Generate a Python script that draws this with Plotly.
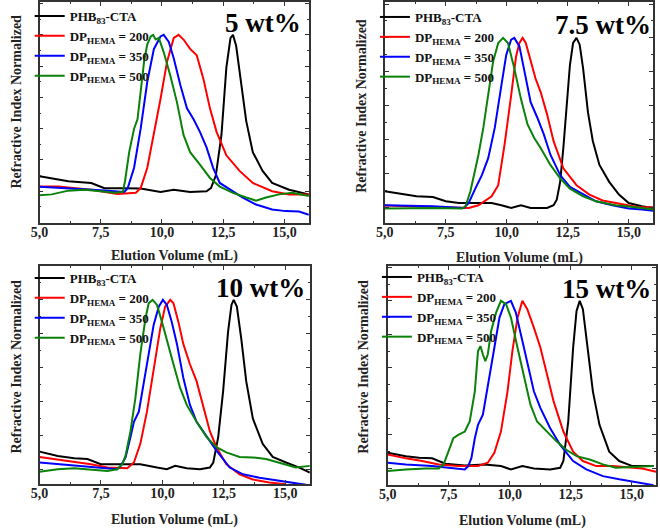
import plotly.graph_objects as go

# ---------------- data (elution volume mL, normalized RI) ----------------
# Panel 1: 5 wt%
p1_black_x = [5.0, 6.17, 7.11, 7.65, 8.46, 9.13, 9.94, 10.48, 11.15, 11.82, 12.0, 12.2, 12.43, 12.63, 12.8, 12.9, 13.03, 13.24, 13.44, 13.71, 14.11, 14.5, 15.19, 16.0]
p1_black_y = [0.096, 0.064, 0.053, 0.02, 0.02, 0.017, -0.004, 0.01, -0.004, 0.0, 0.02, 0.1, 0.36, 0.79, 0.98, 1.0, 0.93, 0.68, 0.45, 0.25, 0.13, 0.053, 0.01, -0.02]
p1_red_x = [5.0, 5.77, 7.1, 8.19, 8.93, 9.13, 9.4, 9.67, 9.94, 10.21, 10.48, 10.68, 10.88, 11.15, 11.42, 11.69, 11.96, 12.23, 12.63, 13.17, 13.71, 14.5, 15.19, 16.0]
p1_red_y = [0.03, 0.03, 0.01, -0.017, -0.01, 0.02, 0.15, 0.36, 0.59, 0.83, 0.98, 1.0, 0.97, 0.91, 0.87, 0.72, 0.53, 0.38, 0.23, 0.13, 0.053, 0.0, -0.02, -0.02]
p1_blue_x = [5.0, 6.44, 7.5, 8.46, 8.6, 8.86, 9.13, 9.4, 9.67, 9.94, 10.07, 10.28, 10.48, 10.75, 11.02, 11.29, 11.55, 11.82, 12.09, 12.36, 12.77, 13.3, 13.84, 14.5, 15.05, 15.6, 16.0]
p1_blue_y = [0.028, 0.017, 0.006, -0.004, 0.02, 0.15, 0.4, 0.7, 0.91, 0.99, 1.0, 0.955, 0.85, 0.68, 0.53, 0.46, 0.38, 0.28, 0.15, 0.053, 0.01, -0.04, -0.085, -0.117, -0.127, -0.13, -0.15]
p1_green_x = [5.0, 5.5, 6.17, 6.84, 7.5, 8.06, 8.4, 8.49, 8.66, 8.86, 9.0, 9.13, 9.27, 9.4, 9.54, 9.64, 9.74, 9.87, 10.07, 10.34, 10.61, 10.88, 11.15, 11.55, 11.96, 12.36, 12.9, 13.44, 13.84, 14.25, 14.78, 15.32, 16.0]
p1_green_y = [-0.025, -0.02, 0.004, 0.01, 0.0, -0.01, -0.004, 0.064, 0.25, 0.4, 0.46, 0.66, 0.83, 0.94, 0.99, 1.0, 0.97, 0.98, 0.89, 0.74, 0.57, 0.36, 0.25, 0.17, 0.085, 0.03, -0.01, -0.04, -0.06, -0.04, -0.02, -0.01, -0.03]

# Panel 2: 7.5 wt%
p2_black_x = [5.0, 5.63, 6.3, 6.97, 7.5, 8.04, 8.84, 9.38, 9.78, 10.18, 10.58, 10.98, 11.65, 11.92, 12.05, 12.19, 12.32, 12.46, 12.59, 12.72, 12.86, 12.99, 13.13, 13.33, 13.53, 13.8, 14.2, 14.6, 15.0, 15.54, 16.0]
p2_black_y = [0.094, 0.078, 0.065, 0.06, 0.035, 0.025, 0.025, 0.025, 0.012, -0.004, 0.012, -0.004, -0.004, 0.012, 0.045, 0.15, 0.35, 0.62, 0.84, 0.97, 1.0, 0.96, 0.82, 0.56, 0.39, 0.25, 0.15, 0.075, 0.025, 0.006, -0.004]
p2_red_x = [5.0, 6.97, 8.44, 8.84, 9.38, 9.65, 9.91, 10.18, 10.38, 10.52, 10.65, 10.78, 10.98, 11.18, 11.39, 11.65, 11.92, 12.32, 12.86, 13.39, 13.93, 14.73, 15.4, 16.0]
p2_red_y = [0.01, 0.0, -0.004, 0.012, 0.065, 0.13, 0.37, 0.66, 0.89, 0.97, 1.0, 0.97, 0.86, 0.76, 0.68, 0.55, 0.39, 0.23, 0.13, 0.075, 0.04, 0.016, 0.0, 0.0]
p2_blue_x = [5.0, 6.97, 8.24, 8.44, 8.71, 8.98, 9.24, 9.51, 9.78, 9.98, 10.18, 10.31, 10.52, 10.72, 10.98, 11.25, 11.52, 11.79, 12.19, 12.59, 13.13, 13.66, 14.33, 15.0, 15.54, 16.0]
p2_blue_y = [0.012, 0.006, -0.004, 0.025, 0.11, 0.19, 0.29, 0.47, 0.72, 0.9, 0.99, 1.0, 0.95, 0.8, 0.62, 0.53, 0.43, 0.31, 0.19, 0.12, 0.075, 0.035, 0.012, -0.008, -0.014, -0.02]
p2_green_x = [5.0, 6.97, 8.17, 8.31, 8.51, 8.71, 8.84, 9.04, 9.24, 9.44, 9.65, 9.85, 10.05, 10.31, 10.58, 10.85, 11.12, 11.39, 11.79, 12.19, 12.59, 13.13, 13.66, 14.46, 15.27, 16.0]
p2_green_y = [-0.008, -0.004, -0.008, 0.006, 0.094, 0.23, 0.31, 0.47, 0.68, 0.86, 0.97, 1.0, 0.97, 0.82, 0.64, 0.49, 0.41, 0.35, 0.25, 0.17, 0.11, 0.065, 0.035, 0.012, 0.0, -0.014]

# Panel 3: 10 wt%
p3_black_x = [5.0, 5.74, 6.41, 6.95, 7.49, 8.16, 9.1, 9.78, 10.18, 10.52, 10.99, 11.53, 11.93, 12.07, 12.27, 12.47, 12.67, 12.81, 12.9, 13.03, 13.21, 13.41, 13.68, 14.08, 14.49, 15.03, 15.57, 16.0]
p3_black_y = [0.104, 0.078, 0.065, 0.06, 0.03, 0.03, 0.03, 0.01, 0.0, 0.02, 0.006, 0.0, 0.01, 0.04, 0.19, 0.46, 0.81, 0.97, 1.0, 0.96, 0.77, 0.52, 0.3, 0.15, 0.073, 0.04, 0.01, -0.02]
p3_red_x = [5.0, 5.74, 6.41, 7.09, 7.76, 8.57, 8.84, 9.1, 9.37, 9.64, 9.91, 10.11, 10.32, 10.45, 10.65, 10.85, 11.12, 11.39, 11.66, 11.93, 12.2, 12.6, 13.14, 13.68, 14.35, 15.03]
p3_red_y = [0.073, 0.059, 0.045, 0.03, 0.01, 0.006, 0.04, 0.15, 0.34, 0.58, 0.83, 0.96, 1.0, 0.98, 0.87, 0.74, 0.62, 0.52, 0.38, 0.225, 0.13, 0.03, -0.03, -0.06, -0.078, -0.088]
p3_blue_x = [5.0, 5.74, 6.68, 7.49, 8.16, 8.3, 8.5, 8.7, 8.84, 9.04, 9.24, 9.44, 9.64, 9.85, 10.02, 10.18, 10.38, 10.59, 10.85, 11.12, 11.39, 11.8, 12.2, 12.74, 13.28, 13.95, 14.76, 15.57, 15.84]
p3_blue_y = [0.04, 0.03, 0.02, 0.006, 0.0, 0.02, 0.07, 0.19, 0.28, 0.34, 0.5, 0.68, 0.85, 0.96, 1.0, 0.97, 0.87, 0.74, 0.54, 0.38, 0.28, 0.19, 0.11, 0.01, -0.03, -0.05, -0.07, -0.088, -0.092]
p3_green_x = [5.0, 5.74, 6.41, 7.09, 7.76, 8.16, 8.37, 8.5, 8.7, 8.9, 9.1, 9.31, 9.44, 9.6, 9.78, 9.98, 10.18, 10.45, 10.72, 10.99, 11.39, 11.8, 12.2, 12.6, 13.14, 13.68, 14.22, 14.89, 15.43, 16.0]
p3_green_y = [-0.014, 0.0, 0.006, 0.0, -0.01, 0.0, 0.03, 0.08, 0.225, 0.42, 0.68, 0.89, 0.98, 1.0, 0.97, 0.87, 0.77, 0.62, 0.48, 0.38, 0.28, 0.19, 0.13, 0.1, 0.073, 0.07, 0.06, 0.033, 0.01, 0.02]

# Panel 4: 15 wt%
p4_black_x = [5.0, 5.74, 6.28, 6.82, 7.36, 8.16, 8.97, 9.64, 10.05, 10.52, 10.99, 11.66, 12.07, 12.2, 12.4, 12.6, 12.74, 12.87, 13.0, 13.2, 13.41, 13.68, 14.08, 14.49, 15.03, 15.9]
p4_black_y = [0.093, 0.073, 0.063, 0.06, 0.028, 0.018, 0.024, 0.014, -0.006, 0.014, 0.0, -0.006, 0.004, 0.044, 0.28, 0.72, 0.94, 1.0, 0.95, 0.7, 0.46, 0.26, 0.1, 0.044, 0.014, 0.014]
p4_red_x = [5.0, 5.74, 6.41, 7.09, 7.89, 8.7, 9.1, 9.37, 9.64, 9.91, 10.11, 10.32, 10.52, 10.72, 10.99, 11.26, 11.53, 11.8, 12.2, 12.6, 13.0, 13.55, 14.22, 14.89, 15.43, 16.0]
p4_red_y = [0.083, 0.06, 0.044, 0.024, 0.014, 0.014, 0.034, 0.093, 0.22, 0.46, 0.7, 0.9, 1.0, 0.95, 0.84, 0.72, 0.56, 0.4, 0.22, 0.1, 0.044, 0.014, 0.014, 0.004, 0.0, -0.02]
p4_blue_x = [5.0, 5.74, 6.82, 7.62, 8.16, 8.3, 8.43, 8.57, 8.7, 8.9, 9.1, 9.37, 9.58, 9.78, 10.05, 10.25, 10.52, 10.79, 10.99, 11.26, 11.66, 12.07, 12.6, 13.14, 13.82, 14.49, 15.16, 15.9]
p4_blue_y = [0.034, 0.024, 0.014, 0.0, -0.006, 0.014, 0.063, 0.18, 0.26, 0.32, 0.48, 0.72, 0.9, 0.98, 1.0, 0.93, 0.76, 0.58, 0.46, 0.36, 0.24, 0.14, 0.044, -0.006, -0.046, -0.065, -0.08, -0.1]
p4_green_x = [5.0, 5.74, 6.55, 7.09, 7.29, 7.49, 7.69, 7.89, 8.16, 8.36, 8.57, 8.7, 8.8, 8.9, 9.0, 9.1, 9.24, 9.44, 9.64, 9.85, 10.05, 10.32, 10.59, 10.85, 11.12, 11.53, 11.93, 12.33, 12.74, 13.28, 13.82, 14.35, 15.16, 15.9]
p4_green_y = [-0.016, -0.006, 0.0, 0.0, 0.024, 0.1, 0.18, 0.2, 0.22, 0.28, 0.46, 0.7, 0.73, 0.68, 0.64, 0.68, 0.82, 0.93, 1.0, 0.98, 0.9, 0.72, 0.54, 0.38, 0.28, 0.22, 0.16, 0.11, 0.073, 0.053, 0.024, 0.004, 0.01, 0.014]

series_names = ["PHB<sub>83</sub>-CTA", "DP<sub>HEMA</sub> = 200", "DP<sub>HEMA</sub> = 350", "DP<sub>HEMA</sub> = 500"]
series_colors = ["#000000", "#ff0000", "#0000ff", "#0a820a"]
panel_labels = ["5 wt%", "7.5 wt%", "10 wt%", "15 wt%"]
x_tick_vals = [5.0, 7.5, 10.0, 12.5, 15.0]
x_tick_text = ["5,0", "7,5", "10,0", "12,5", "15,0"]
x_title = "Elution Volume (mL)"
y_title = "Refractive Index Normalized"

panels = [
    [(p1_black_x, p1_black_y), (p1_red_x, p1_red_y), (p1_blue_x, p1_blue_y), (p1_green_x, p1_green_y)],
    [(p2_black_x, p2_black_y), (p2_red_x, p2_red_y), (p2_blue_x, p2_blue_y), (p2_green_x, p2_green_y)],
    [(p3_black_x, p3_black_y), (p3_red_x, p3_red_y), (p3_blue_x, p3_blue_y), (p3_green_x, p3_green_y)],
    [(p4_black_x, p4_black_y), (p4_red_x, p4_red_y), (p4_blue_x, p4_blue_y), (p4_green_x, p4_green_y)],
]

# ---------------- layout geometry (pixels) ----------------
W, H = 660, 529
SERIF = "Liberation Serif"
# left, right, top, bottom of each plot frame
frames = [(31, 304, 0, 222), (381, 653, 0, 222), (31, 305, 265, 484), (384, 656, 265, 485)]
y_ranges = [[-0.204, 1.21], [-0.094, 1.212], [-0.088, 1.2], [-0.1, 1.208]]
legend_pos = [(21, -1), (371, 0), (21, 262), (373, 261)]
label_pos = [(298, 21), (653, 23), (302, 287), (653, 288)]
ytitle_pos = [(8, 100), (357, 104), (8, 366), (360, 366)]
xtitle_pos = [(168, 255), (518, 257), (168, 520), (521, 521)]

fig = go.Figure()
legend_keys = ["legend", "legend2", "legend3", "legend4"]

for p, curves in enumerate(panels):
    ax = "" if p == 0 else str(p + 1)
    for s, (xs, ys) in enumerate(curves):
        fig.add_trace(go.Scatter(
            x=xs, y=ys, mode="lines", name=series_names[s],
            line=dict(color=series_colors[s], width=2),
            xaxis="x" + ax, yaxis="y" + ax, legend=legend_keys[p],
        ))

layout = dict(
    width=W, height=H, margin=dict(l=0, r=0, t=0, b=0),
    paper_bgcolor="white", plot_bgcolor="white", showlegend=True,
    font=dict(family=SERIF, size=14, color="#222", weight="bold"),
)
annotations = []
for p in range(4):
    l, r, t, b = frames[p]
    ax = "" if p == 0 else str(p + 1)
    common_line = dict(showline=True, linecolor="#333333", linewidth=1.5, mirror="allticks",
                       showgrid=False, zeroline=False, ticks="inside", tickcolor="#333333",
                       ticklen=4, tickwidth=1)
    layout["xaxis" + ax] = dict(
        domain=[l / W, r / W], anchor="y" + ax, range=[5, 16],
        tickvals=x_tick_vals, ticktext=x_tick_text, ticklabelstandoff=-5,
        tickfont=dict(family=SERIF, size=14, color="#222", weight="bold"),
        minor=dict(tickvals=[6.25, 8.75, 11.25, 13.75], ticks="inside", ticklen=2, tickcolor="#333333"),
        **common_line,
    )
    layout["yaxis" + ax] = dict(
        domain=[1 - b / H, 1 - t / H], anchor="x" + ax, range=y_ranges[p],
        tick0=0, dtick=0.2, showticklabels=False,
        minor=dict(dtick=0.1, ticks="inside", ticklen=2, tickcolor="#333333"),
        **common_line,
    )
    lx, ly = legend_pos[p]
    layout[legend_keys[p]] = dict(
        x=lx / W, y=1 - ly / H, xanchor="left", yanchor="top", xref="paper", yref="paper",
        bgcolor="rgba(0,0,0,0)", borderwidth=0, itemwidth=30,
        font=dict(family=SERIF, size=13, color="#111", weight="bold"),
        tracegroupgap=0,
    )
    cx, cy = label_pos[p]
    annotations.append(dict(text=panel_labels[p], x=cx / W, y=1 - cy / H, xref="paper", yref="paper",
                            xanchor="right", yanchor="middle", showarrow=False,
                            font=dict(family=SERIF, size=27, color="black", weight="bold")))
    yx, yy = ytitle_pos[p]
    annotations.append(dict(text=y_title, x=yx / W, y=1 - yy / H, xref="paper", yref="paper",
                            xanchor="center", yanchor="middle", showarrow=False, textangle=-90,
                            font=dict(family=SERIF, size=14, color="#222", weight="bold")))
    xx, xy = xtitle_pos[p]
    annotations.append(dict(text=x_title, x=xx / W, y=1 - xy / H, xref="paper", yref="paper",
                            xanchor="center", yanchor="middle", showarrow=False,
                            font=dict(family=SERIF, size=14, color="#222", weight="bold")))
layout["annotations"] = annotations
fig.update_layout(**layout)
fig.write_html("out.html")
